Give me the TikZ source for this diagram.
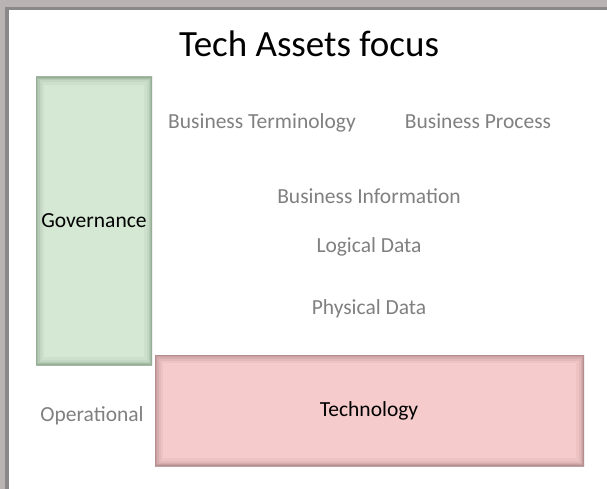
\documentclass[tikz,border=0pt]{standalone}
\usepackage{fontspec}
\setmainfont{Carlito}
\definecolor{frameLight}{HTML}{B9B3B3}
\definecolor{frameDark}{HTML}{8A8888}
\definecolor{govFill}{HTML}{D5E8D4}
\definecolor{govEdge}{HTML}{6F8A6E}
\definecolor{techFill}{HTML}{F5CBCB}
\definecolor{techEdge}{HTML}{8F6A6C}
\definecolor{labelGray}{HTML}{808080}
\tikzset{
  lbl/.style={font=\fontsize{21.5}{25}\selectfont, text=labelGray, inner sep=0pt, text height=14pt, text depth=0pt},
  boxtext/.style={font=\fontsize{21.5}{25}\selectfont, text=black, inner sep=0pt, text height=14pt, text depth=0pt},
}
\newcommand{\glowbox}[5]{%
  \fill[#5Fill] (#1,#2) rectangle (#3,#4);
  \begin{scope}
    \clip (#1,#2) rectangle (#3,#4);
    \draw[#5Edge, line width=16pt, opacity=0.08] (#1,#2) rectangle (#3,#4);
    \draw[#5Edge, line width=11pt, opacity=0.10] (#1,#2) rectangle (#3,#4);
    \draw[#5Edge, line width=7pt, opacity=0.15] (#1,#2) rectangle (#3,#4);
    \draw[#5Edge, line width=4pt, opacity=0.2] (#1,#2) rectangle (#3,#4);
    \draw[#5Edge, line width=1.5pt, opacity=0.3] (#1,#2) rectangle (#3,#4);
  \end{scope}
}
\begin{document}
\begin{tikzpicture}[x=1pt,y=-1pt]
\useasboundingbox (0,0) rectangle (607,489);
% frame
\fill[frameLight] (0,0) rectangle (607,489);
\fill[frameDark] (4.5,7) rectangle (607,489);
\fill[white] (8.5,10.5) rectangle (607,489);
% boxes
\glowbox{36}{77}{152}{365}{gov}
\glowbox{155}{355}{584}{466}{tech}
% texts
\node[font=\fontsize{37}{44}\selectfont, inner sep=0pt, text height=25pt, text depth=0pt] (title) at (309,44) {Tech Assets focus};
\node[boxtext] (gov) at (94,220) {Governance};
\node[boxtext] (tech) at (369,409) {Technology};
\node[lbl] (term) at (262,122) {Business Terminology};
\node[lbl] (proc) at (478,122) {Business Process};
\node[lbl] (info) at (369,196) {Business Information};
\node[lbl] (logic) at (369,245) {Logical Data};
\node[lbl] (phys) at (369,307) {Physical Data};
\node[lbl] (oper) at (92,414) {Operational};
\end{tikzpicture}
\end{document}
